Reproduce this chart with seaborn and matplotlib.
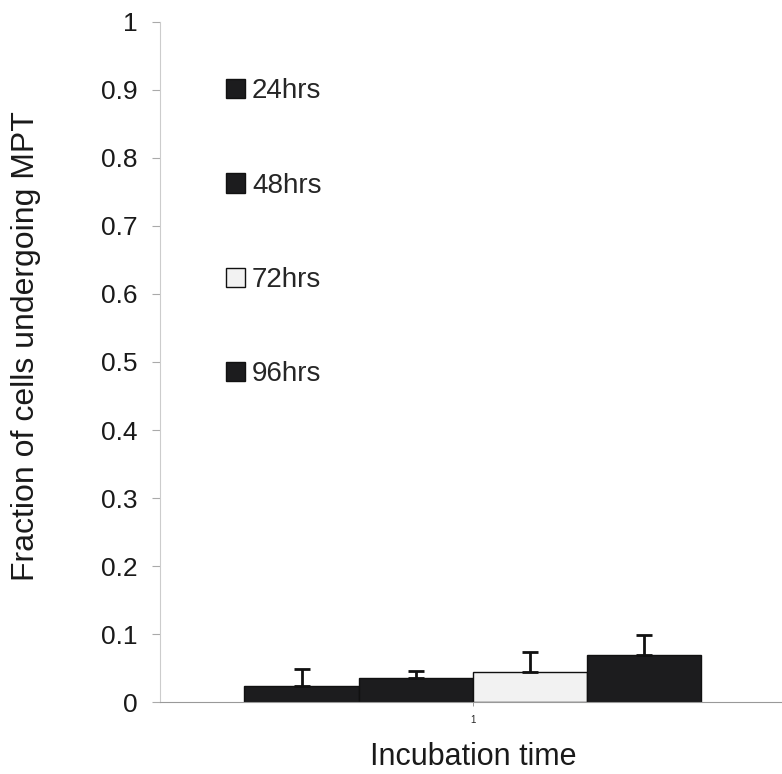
import matplotlib
matplotlib.use("Agg")
import matplotlib.pyplot as plt
import seaborn as sns
import pandas as pd
from matplotlib.patches import Patch

categories = ["1"]
groups = ["24hrs", "48hrs", "72hrs", "96hrs"]
means = [0.023, 0.035, 0.044, 0.069]
errors = [0.025, 0.011, 0.029, 0.029]
colors = ["#1c1c1e", "#1c1c1e", "#f2f2f2", "#1c1c1e"]

sns.set_theme(style="white")
plt.rcParams["font.family"] = ["Liberation Sans", "DejaVu Sans"]

df = pd.DataFrame({"cat": categories * len(groups), "group": groups, "value": means})

fig = plt.figure(figsize=(7.82, 7.74), dpi=100)
ax = fig.add_axes([0.2046, 0.093, 0.80, 0.8786])

sns.barplot(data=df, x="cat", y="value", hue="group", hue_order=groups,
            palette=colors, width=0.73, errorbar=None, ax=ax,
            edgecolor="#111111", linewidth=1.0, legend=False, gap=0)

for p, m, e in zip(ax.patches, means, errors):
    cx = p.get_x() + p.get_width() / 2
    ax.errorbar([cx], [m], yerr=[[0], [e]], fmt="none", ecolor="#111111",
                elinewidth=2.0, capsize=6, capthick=2.0, zorder=5)

ax.set_ylim(0, 1)
ax.set_xlim(-0.5, 0.5)
ax.set_yticks([0, 0.1, 0.2, 0.3, 0.4, 0.5, 0.6, 0.7, 0.8, 0.9, 1])
ax.set_yticklabels(["0", "0.1", "0.2", "0.3", "0.4", "0.5", "0.6", "0.7", "0.8", "0.9", "1"])
ax.tick_params(axis="y", labelsize=19, length=6, width=0.8, color="#aaaaaa",
               direction="out", left=True, pad=10, labelcolor="#1a1a1a")
ax.tick_params(axis="x", labelsize=7, length=3, width=0.6, color="#888888",
               direction="out", bottom=True, pad=6)

for s in ["top", "right"]:
    ax.spines[s].set_visible(False)
ax.spines["left"].set_color("#cccccc")
ax.spines["left"].set_linewidth(0.8)
ax.spines["bottom"].set_color("#999999")
ax.spines["bottom"].set_linewidth(0.8)

ax.set_xlabel("Incubation time", fontsize=22, color="#1a1a1a")
ax.set_ylabel("Fraction of cells undergoing MPT", fontsize=23, color="#1a1a1a")
ax.xaxis.set_label_coords(0.5, -0.059)
ax.yaxis.set_label_coords(-0.19, 0.524)

handles = [Patch(facecolor=c, edgecolor="#111111", linewidth=1.0) for c in colors]
ax.legend(handles, groups, loc="upper left", bbox_to_anchor=(0.105, 0.917),
          frameon=False, fontsize=20, labelspacing=2.46, handlelength=0.7,
          handleheight=0.7, handletextpad=0.25, borderaxespad=0, borderpad=0)

fig.savefig("out.png", dpi=100, facecolor="white")
